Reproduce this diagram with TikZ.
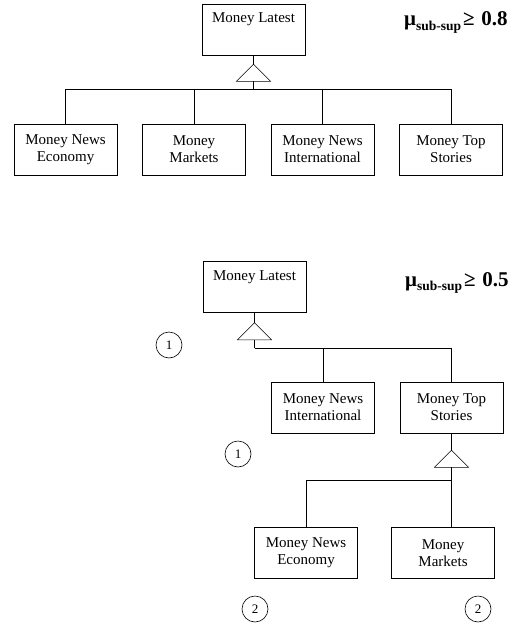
\documentclass[tikz,border=0pt]{standalone}
\usepackage{fontspec}
\setmainfont{Liberation Serif}
\usetikzlibrary{positioning,calc}
\newcommand{\musup}[1]{\textbf{\fontsize{21}{21}\selectfont μ\raisebox{-4.5pt}{\fontsize{13.5}{13.5}\selectfont sub-sup}\kern2pt≥\kern1.5pt{} #1}}

\begin{document}
\begin{tikzpicture}[x=1pt, y=1pt, node distance=128.5pt, on grid, line width=0.6pt,
  box/.style={draw, rectangle, minimum width=103pt, minimum height=51pt,
    inner sep=3pt, align=center, font=\fontsize{15}{17}\selectfont},
  topbox/.style={box, text height=12pt, text depth=26pt, inner ysep=4.5pt},
  num/.style={draw, circle, minimum size=26pt, inner sep=0pt,
    font=\fontsize{13}{13}\selectfont}]

  \useasboundingbox (0,0) rectangle (524,-626);

  % Upper hierarchy, threshold 0.8
  \node[topbox] (lat1) at (253.5,-29.5) {Money Latest};
  \node[box] (eco1) at (65.5,-149.5) {Money News\\Economy};
  \node[box] (mkt1) [right=of eco1] {Money\\Markets};
  \node[box] (int1) [right=of mkt1] {Money News\\International};
  \node[box] (top1) [right=of int1] {Money Top\\Stories};
  \node[anchor=base east, inner sep=0pt] (thr1) at (508,-26) {\musup{0.8}};

  % Triangle and branches of the upper hierarchy
  \coordinate (tri1) at ($(lat1.south)+(0,-9)$);
  \coordinate (bas1) at ($(tri1)+(0,-17)$);
  \coordinate (bus1) at ($(bas1)+(0,-8)$);
  \draw (lat1.south) -- (tri1);
  \draw (tri1) -- ++(-17,-17) -- ++(34,0) -- cycle;
  \draw (bas1) -- (bus1);
  \foreach \c in {eco1,mkt1,int1,top1}
    \draw (bus1) -| (\c.north);

  % Lower hierarchy, threshold 0.5
  \node[topbox] (lat2) at (254.5,-287) {Money Latest};
  \node[box] (int2) at (323,-407.5) {Money News\\International};
  \node[box] (top2) [right=of int2] {Money Top\\Stories};
  \node[box] (eco2) at (306,-553) {Money News\\Economy};
  \node[box] (mkt2) [right=137pt of eco2] {Money\\Markets};
  \node[anchor=base east, inner sep=0pt] (thr2) at (509,-286) {\musup{0.5}};

  % Triangles and branches of the lower hierarchy
  \coordinate (tri2) at ($(lat2.south)+(0,-10)$);
  \coordinate (bas2) at ($(tri2)+(0,-17)$);
  \coordinate (bus2) at ($(bas2)+(0,-8)$);
  \draw (lat2.south) -- (tri2);
  \draw (tri2) -- ++(-17,-17) -- ++(34,0) -- cycle;
  \draw (bas2) -- (bus2);
  \draw (bus2) -| (int2.north);
  \draw (bus2) -| (top2.north);

  \coordinate (tri3) at ($(top2.south)+(0,-17)$);
  \coordinate (bas3) at ($(tri3)+(0,-17)$);
  \coordinate (bus3) at ($(bas3)+(0,-13)$);
  \draw (top2.south) -- (tri3);
  \draw (tri3) -- ++(-17,-17) -- ++(34,0) -- cycle;
  \draw (bas3) -- (bus3) -- (bus3 |- mkt2.north);
  \draw (bus3) -| (eco2.north);

  % Level markers
  \node[num] (lev1) at (169,-345) {1};
  \node[num] (lev2) at (238,-454) {1};
  \node[num] (lev3) at (255,-609) {2};
  \node[num] (lev4) at (478,-609) {2};

\end{tikzpicture}
\end{document}
